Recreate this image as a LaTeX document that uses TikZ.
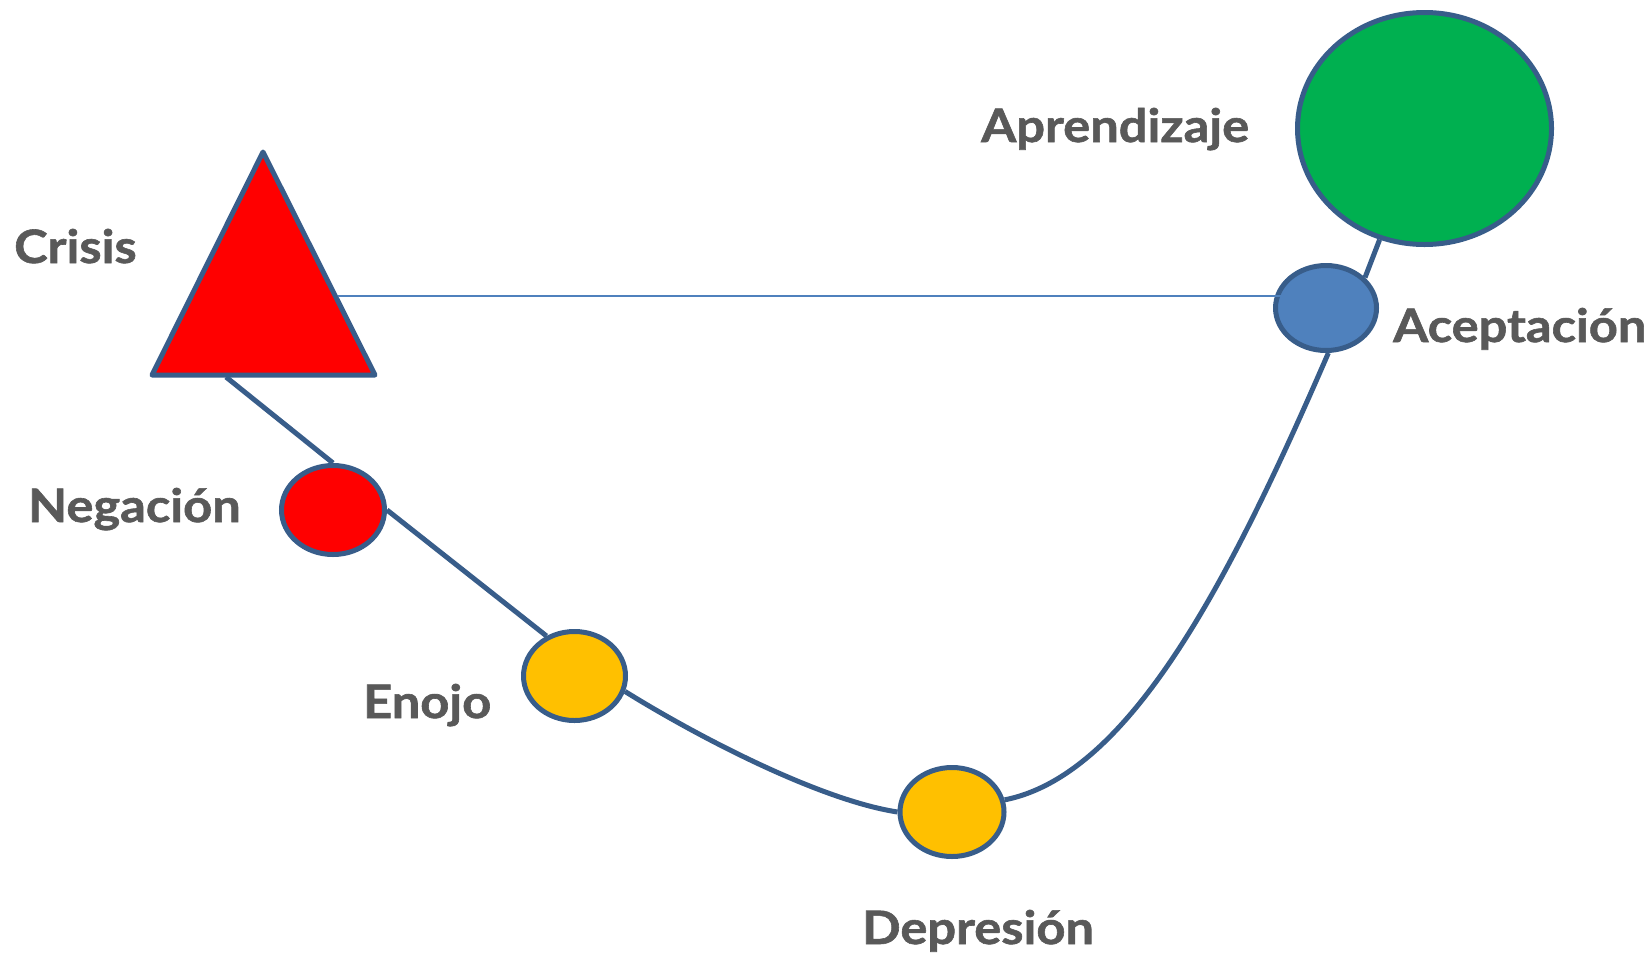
\documentclass[tikz,border=0pt]{standalone}
\usepackage{fontspec}
\setmainfont{Lato}[BoldFeatures={FakeStretch=1.1, FakeBold=1.3}]
\usetikzlibrary{shapes.geometric}
\definecolor{edge}{HTML}{385D8A}
\definecolor{thin}{HTML}{4F81BD}
\definecolor{txt}{HTML}{595959}
\definecolor{red1}{HTML}{FF0000}
\definecolor{yel}{HTML}{FFC000}
\definecolor{grn}{HTML}{00B050}
\definecolor{blu}{HTML}{4F81BD}
\tikzset{
  blob/.style={ellipse, draw=edge, line width=5pt, inner sep=0pt},
  lbl/.style={anchor=base west, text=txt, font=\fontsize{46}{50}\selectfont\bfseries, inner sep=0pt},
  conn/.style={draw=edge, line width=5pt},
  thinline/.style={draw=thin, line width=2pt}
}
\begin{document}
\begin{tikzpicture}[x=1pt,y=-1pt]
\useasboundingbox (0,0) rectangle (1651,954);
% triangle
\coordinate (tA) at (263,152);
\coordinate (tL) at (152,375);
\coordinate (tR) at (375,375);
\draw[draw=edge, fill=red1, line width=5pt, line join=round] (tA) -- (tL) -- (tR) -- cycle;
\coordinate (crisisR) at (338,296);
\coordinate (crisisB) at (226,377);
% ellipses
\node[blob, fill=red1, minimum width=103pt, minimum height=89pt] (neg) at (333,510) {};
\node[blob, fill=yel, minimum width=102pt, minimum height=89pt] (eno) at (574.5,676) {};
\node[blob, fill=yel, minimum width=104pt, minimum height=89pt] (dep) at (952,812) {};
\node[blob, fill=blu, minimum width=101pt, minimum height=85pt] (acep) at (1326,308) {};
\node[blob, fill=grn, minimum width=254pt, minimum height=232pt] (apr) at (1424.5,128.5) {};
\coordinate (acepIn) at (1289,296);
% connectors
\draw[conn] (crisisB) -- (neg.north);
\draw[conn] (neg.east) -- (eno.125);
\draw[conn] (eno.-17) .. controls (700,738) and (820,800) .. (dep.west);
\draw[conn] (dep.13) .. controls (1130,775) and (1230,580) .. (acep.-87);
\draw[conn] (acep.38) -- (apr.-112);
\draw[thinline] (crisisR) -- (acepIn);
% labels
\node[lbl] (lcrisis) at (14,263) {Crisis};
\node[lbl] (lapr) at (981,142) {Aprendizaje};
\node[lbl] (lacep) at (1393,342) {Aceptación};
\node[lbl] (lneg) at (28,522) {Negación};
\node[lbl] (leno) at (363,718) {Enojo};
\node[lbl] (ldep) at (862,944) {Depresión};
\end{tikzpicture}
\end{document}
